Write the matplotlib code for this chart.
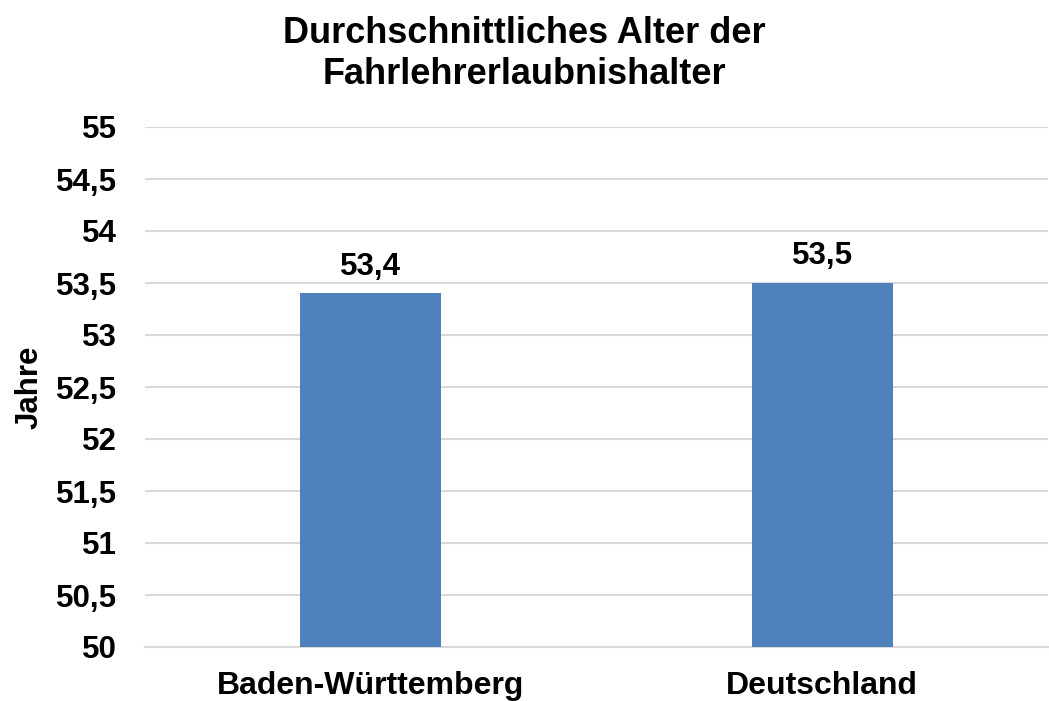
import matplotlib.pyplot as plt

categories = ['Baden-Württemberg', 'Deutschland']
values = [53.4, 53.5]
labels = ['53,4', '53,5']
yticks = [50, 50.5, 51, 51.5, 52, 52.5, 53, 53.5, 54, 54.5, 55]

plt.rcParams['font.family'] = ['Liberation Sans', 'DejaVu Sans']
plt.rcParams['font.weight'] = 'bold'

fig = plt.figure(figsize=(10.49, 7.01), dpi=100)
ax = fig.add_axes([145 / 1049, 1 - 647 / 701, 903 / 1049, 520 / 701])

x = range(len(categories))
ax.bar(x, values, width=0.313, color='#4f81bd', zorder=3)
for xi, v, lab in zip(x, values, labels):
    ax.annotate(lab, (xi, v), xytext=(0, 13.5), textcoords='offset points',
                ha='center', va='baseline', fontsize=22.5, fontweight='bold')

ax.set_xlim(-0.5, 1.5)
ax.set_ylim(50, 55)
ax.set_yticks(yticks)
ax.set_yticklabels([f'{t:g}'.replace('.', ',') for t in yticks], fontsize=22.5, fontweight='bold')
ax.set_xticks(list(x))
ax.set_xticklabels(categories, fontsize=23, fontweight='bold')
ax.tick_params(axis='x', length=0, pad=17)
ax.tick_params(axis='y', length=0, pad=20)

ax.grid(axis='y', color='#d9d9d9', linewidth=1.5, zorder=0)
for s in ['top', 'right', 'left']:
    ax.spines[s].set_visible(False)
ax.spines['bottom'].set_color('#d9d9d9')
ax.spines['bottom'].set_linewidth(1.5)

ax.set_ylabel('Jahre', fontsize=22.5, fontweight='bold', va='center')
ax.yaxis.set_label_coords((30 - 145) / 903, (647 - 387) / 520)

fig.text(0.5, 1 - 84 / 701, 'Durchschnittliches Alter der\nFahrlehrerlaubnishalter',
         fontsize=26, fontweight='bold', ha='center', va='baseline', linespacing=1.22)

fig.savefig('out.png', dpi=100)
